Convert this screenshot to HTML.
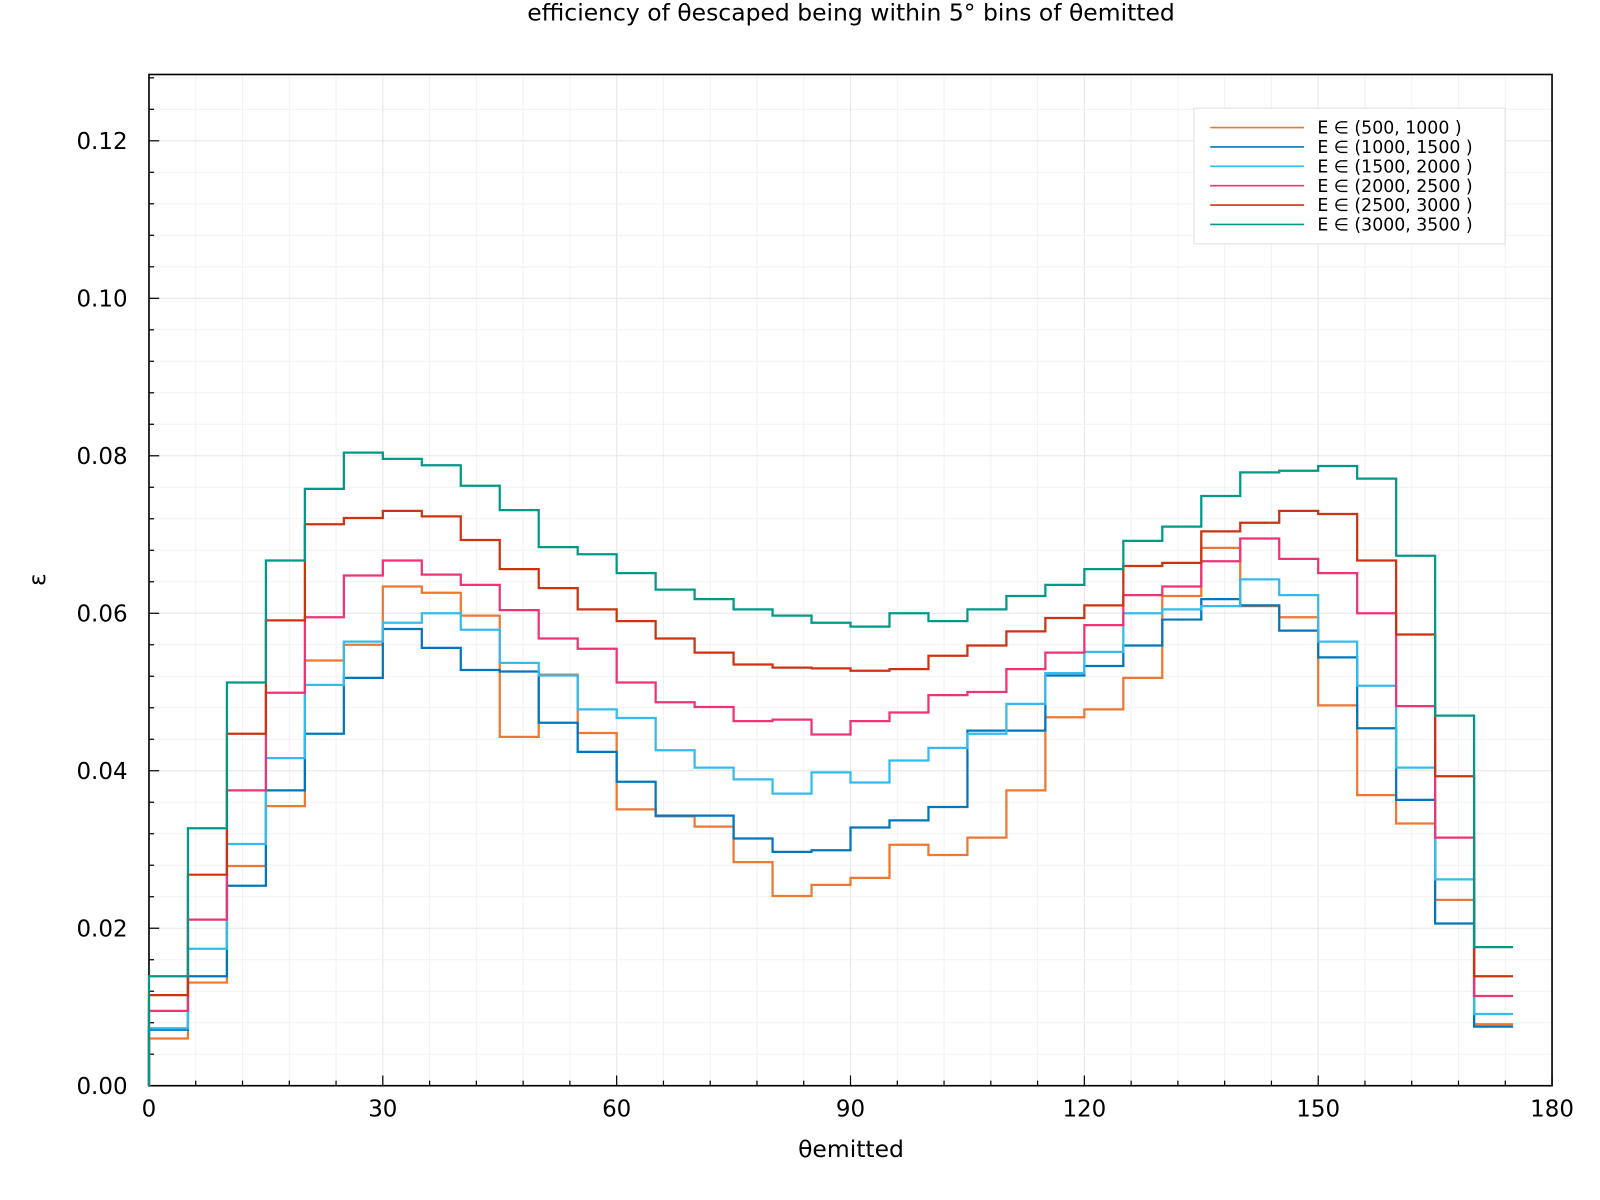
<!DOCTYPE html>
<html><head><meta charset="utf-8"><style>
body{margin:0;background:#fff;}
svg{display:block;font-family:"DejaVu Sans","Liberation Sans",sans-serif;}
</style></head><body>
<svg id="chart" width="1600" height="1200" viewBox="0 0 1568 1176" xmlns="http://www.w3.org/2000/svg">
<rect width="1568" height="1176" fill="#fff"/>
<g id="grid"></g>
<g id="axes"></g>
<g id="series"></g>
<text x="834" y="20" font-size="23" text-anchor="middle">efficiency of θescaped being within 5° bins of θemitted</text>
<text x="834" y="1134" font-size="23" text-anchor="middle">θemitted</text>
<text x="44" y="568" font-size="23" text-anchor="middle" transform="rotate(-90 44 568)">ε</text>
<g id="legend"></g>
</svg>
<script>
const binEdges = [0,5,10,15,20,25,30,35,40,45,50,55,60,65,70,75,80,85,90,95,100,105,110,115,120,125,130,135,140,145,150,155,160,165,170,175];
const seriesNames = ["E ∈ (500, 1000 )","E ∈ (1000, 1500 )","E ∈ (1500, 2000 )","E ∈ (2000, 2500 )","E ∈ (2500, 3000 )","E ∈ (3000, 3500 )"];
const s1 = [0.006,0.0131,0.0279,0.0355,0.054,0.056,0.0634,0.0626,0.0597,0.0443,0.0522,0.0448,0.0351,0.0342,0.0329,0.0284,0.0241,0.0255,0.0264,0.0306,0.0293,0.0315,0.0375,0.0468,0.0478,0.0518,0.0622,0.0683,0.0609,0.0595,0.0483,0.0369,0.0333,0.0236,0.0078];
const s2 = [0.0071,0.0139,0.0254,0.0375,0.0447,0.0518,0.058,0.0556,0.0528,0.0526,0.0461,0.0424,0.0386,0.0343,0.0343,0.0314,0.0297,0.0299,0.0328,0.0337,0.0354,0.0451,0.0451,0.0521,0.0533,0.0559,0.0592,0.0618,0.061,0.0578,0.0544,0.0454,0.0363,0.0206,0.0075];
const s3 = [0.0073,0.0174,0.0307,0.0416,0.0509,0.0564,0.0588,0.06,0.0579,0.0537,0.0521,0.0478,0.0467,0.0426,0.0404,0.0389,0.0371,0.0398,0.0385,0.0413,0.0429,0.0447,0.0485,0.0524,0.0551,0.06,0.0605,0.0609,0.0643,0.0623,0.0564,0.0508,0.0404,0.0262,0.0091];
const s4 = [0.0095,0.0211,0.0375,0.0499,0.0595,0.0648,0.0667,0.0649,0.0636,0.0604,0.0568,0.0555,0.0512,0.0487,0.0481,0.0463,0.0465,0.0446,0.0463,0.0474,0.0496,0.05,0.0529,0.055,0.0585,0.0623,0.0634,0.0666,0.0695,0.0669,0.0651,0.06,0.0482,0.0315,0.0114];
const s5 = [0.0115,0.0268,0.0447,0.0591,0.0713,0.0721,0.073,0.0723,0.0693,0.0656,0.0632,0.0605,0.059,0.0568,0.055,0.0535,0.0531,0.053,0.0527,0.0529,0.0546,0.0559,0.0577,0.0594,0.061,0.066,0.0664,0.0704,0.0715,0.073,0.0726,0.0667,0.0573,0.0393,0.0139];
const s6 = [0.0139,0.0327,0.0512,0.0667,0.0758,0.0804,0.0796,0.0788,0.0762,0.0731,0.0684,0.0675,0.0651,0.063,0.0618,0.0605,0.0597,0.0588,0.0583,0.06,0.059,0.0605,0.0622,0.0636,0.0656,0.0692,0.071,0.0749,0.0779,0.0781,0.0787,0.0771,0.0673,0.047,0.0176];
const xTicks = [0,30,60,90,120,150,180];
const yTicks = [0,0.02,0.04,0.06,0.08,0.10,0.12];
const yTickLabels = ["0.00","0.02","0.04","0.06","0.08","0.10","0.12"];

const colors = ["#ee7733","#0077bb","#33bbee","#ee3377","#cc3311","#009988"];
const allSeries = [s1,s2,s3,s4,s5,s6];
const L=146,R=1521,T=73,B=1064;
const X = v => L + (v/180)*(R-L);
const Y = v => B - (v/0.12)*(B-138);
const NS="http://www.w3.org/2000/svg";
function mk(tag, attrs, parent){const e=document.createElementNS(NS,tag);for(const k in attrs)e.setAttribute(k,attrs[k]);parent.appendChild(e);return e;}
const grid=document.getElementById('grid'), axes=document.getElementById('axes'), ser=document.getElementById('series'), leg=document.getElementById('legend');

for(let v=0; v<=180.001; v+=6){
  const g=mk('line',{x1:X(v),x2:X(v),y1:T,y2:B,stroke:(v%30===0)?'#e6e6e6':'#f2f2f2','stroke-width':1},grid);
  
  
}
for(let i=0;i<=32;i++){
  const v=i*0.004; const yy=Y(v); if(yy<T) continue;
  const g=mk('line',{x1:L,x2:R,y1:yy,y2:yy,stroke:(i%5===0)?'#e6e6e6':'#f2f2f2','stroke-width':1},grid);
  
  
}
const frame=mk('rect',{x:L,y:T,width:R-L,height:B-T,fill:'none',stroke:'#000','stroke-width':1.6},axes);


for(let v=0; v<=180.001; v+=6){
  const major=v%30===0;
  const t=mk('line',{x1:X(v),x2:X(v),y1:B,y2:B-(major?10:5),stroke:'#000','stroke-width':1.2},axes);
  
  
}
for(let i=0;i<=32;i++){
  const v=i*0.004; const yy=Y(v); if(yy<T) continue;
  const t=mk('line',{x1:L,x2:L+(i%5===0?10:5),y1:yy,y2:yy,stroke:'#000','stroke-width':1.2},axes);
  
  
}
xTicks.forEach(v=>{
  const t=mk('text',{x:X(v),y:B+30,'font-size':22.5,'text-anchor':'middle'},axes); t.textContent=v;
  
  
});
yTicks.forEach((v,i)=>{
  const t=mk('text',{x:L-21,y:Y(v)+8,'font-size':22.5,'text-anchor':'end'},axes); t.textContent=yTickLabels[i];
  
  
});
allSeries.forEach((s,k)=>{
  let d='M'+X(binEdges[0])+','+Y(0);
  for(let i=0;i<s.length;i++){
    const x0=X(binEdges[i]), x1=X(binEdges[i]+5);
    d+=' L'+x0+','+Y(s[i])+' L'+x1+','+Y(s[i]);
  }
  const p=mk('path',{d:d,fill:'none',stroke:colors[k],'stroke-width':2.2},ser);
  
  
});
const box=mk('rect',{x:1170,y:106,width:305,height:133,fill:'#fff',stroke:'#e0e0e0','stroke-width':1},leg);


seriesNames.forEach((n,k)=>{
  const yy=125+k*19;
  const ln=mk('line',{x1:1186,x2:1278,y1:yy,y2:yy,stroke:colors[k],'stroke-width':1.6},leg);
  
  
  const t=mk('text',{x:1291,y:yy+6,'font-size':17},leg); t.textContent=n;
  
  
});
</script>
</body></html>
